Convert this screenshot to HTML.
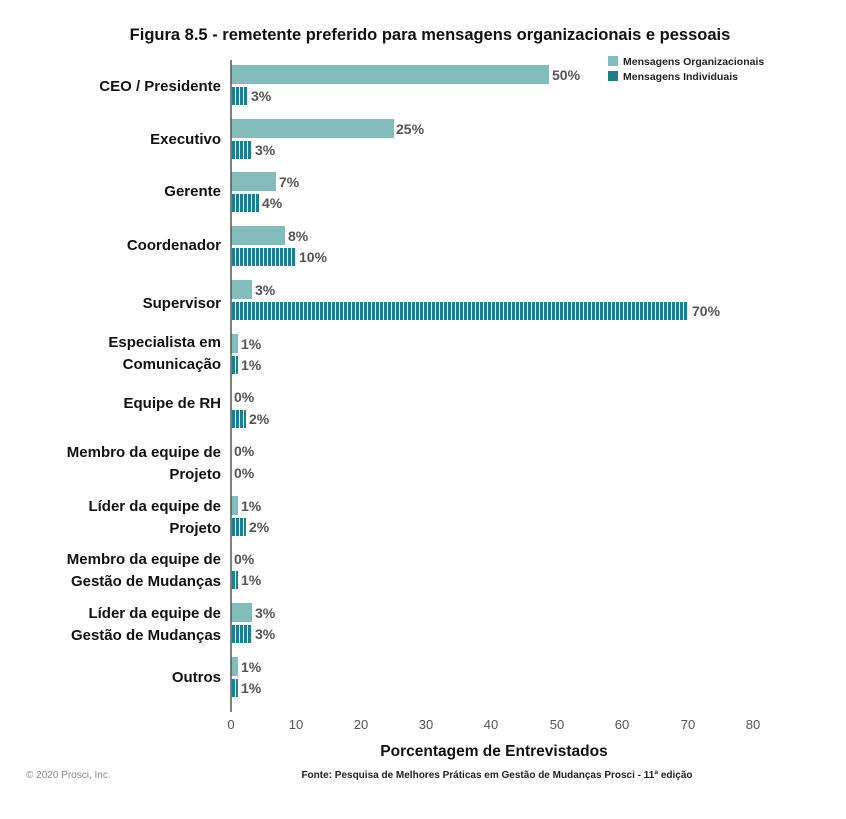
<!DOCTYPE html>
<html><head><meta charset="utf-8"><style>
body{margin:0;background:#fff}
svg{display:block;font-family:"Liberation Sans",sans-serif}
</style></head><body>
<svg width="846" height="819" viewBox="0 0 846 819" xmlns="http://www.w3.org/2000/svg">
<defs>
<pattern id="st" width="4" height="10" patternUnits="userSpaceOnUse">
<rect width="4" height="10" fill="#1e7f8a"/><rect x="3" width="1" height="10" fill="#d8ecec"/>
</pattern>
</defs>
<text x="430" y="40" text-anchor="middle" font-size="16.5" font-weight="bold" fill="#111">Figura 8.5 - remetente preferido para mensagens organizacionais e pessoais</text>
<rect x="608" y="56" width="10" height="10" fill="#84bcbc"/>
<text x="623" y="65" font-size="10.5" font-weight="bold" fill="#222">Mensagens Organizacionais</text>
<rect x="608" y="71" width="10" height="10" fill="#1e7f8a"/>
<text x="623" y="80" font-size="10.5" font-weight="bold" fill="#222">Mensagens Individuais</text>
<g font-size="15" font-weight="bold" fill="#111" text-anchor="end">
<text x="221" y="91">CEO / Presidente</text>
<text x="221" y="144">Executivo</text>
<text x="221" y="196">Gerente</text>
<text x="221" y="250">Coordenador</text>
<text x="221" y="308">Supervisor</text>
<text x="221" y="347">Especialista em</text><text x="221" y="369">Comunicação</text>
<text x="221" y="408">Equipe de RH</text>
<text x="221" y="457">Membro da equipe de</text><text x="221" y="479">Projeto</text>
<text x="221" y="511">Líder da equipe de</text><text x="221" y="533">Projeto</text>
<text x="221" y="564">Membro da equipe de</text><text x="221" y="586">Gestão de Mudanças</text>
<text x="221" y="618">Líder da equipe de</text><text x="221" y="640">Gestão de Mudanças</text>
<text x="221" y="682">Outros</text>
</g>
<g font-size="14" font-weight="bold" fill="#555">
<rect x="231" y="65" width="318" height="19" fill="#84bcbc"/><text x="552" y="80">50%</text>
<rect x="231" y="87" width="17" height="18" fill="url(#st)"/><text x="251" y="101">3%</text>
<rect x="231" y="119" width="163" height="19" fill="#84bcbc"/><text x="396" y="134">25%</text>
<rect x="231" y="141" width="21" height="18" fill="url(#st)"/><text x="255" y="155">3%</text>
<rect x="231" y="172" width="45" height="19" fill="#84bcbc"/><text x="279" y="187">7%</text>
<rect x="231" y="194" width="28" height="18" fill="url(#st)"/><text x="262" y="208">4%</text>
<rect x="231" y="226" width="54" height="19" fill="#84bcbc"/><text x="288" y="241">8%</text>
<rect x="231" y="248" width="65" height="18" fill="url(#st)"/><text x="299" y="262">10%</text>
<rect x="231" y="280" width="21" height="19" fill="#84bcbc"/><text x="255" y="295">3%</text>
<rect x="231" y="302" width="457" height="18" fill="url(#st)"/><text x="692" y="316">70%</text>
<rect x="231" y="334" width="7" height="19" fill="#84bcbc"/><text x="241" y="349">1%</text>
<rect x="231" y="356" width="7" height="18" fill="url(#st)"/><text x="241" y="370">1%</text>
<text x="234" y="402">0%</text>
<rect x="231" y="410" width="15" height="18" fill="url(#st)"/><text x="249" y="424">2%</text>
<text x="234" y="456">0%</text>
<text x="234" y="478">0%</text>
<rect x="231" y="496" width="7" height="19" fill="#84bcbc"/><text x="241" y="511">1%</text>
<rect x="231" y="518" width="15" height="18" fill="url(#st)"/><text x="249" y="532">2%</text>
<text x="234" y="564">0%</text>
<rect x="231" y="571" width="7" height="18" fill="url(#st)"/><text x="241" y="585">1%</text>
<rect x="231" y="603" width="21" height="19" fill="#84bcbc"/><text x="255" y="618">3%</text>
<rect x="231" y="625" width="21" height="18" fill="url(#st)"/><text x="255" y="639">3%</text>
<rect x="231" y="657" width="7" height="19" fill="#84bcbc"/><text x="241" y="672">1%</text>
<rect x="231" y="679" width="7" height="18" fill="url(#st)"/><text x="241" y="693">1%</text>
</g>
<line x1="231" y1="60" x2="231" y2="712" stroke="#555" stroke-width="1.5"/>
<g font-size="13" fill="#555" text-anchor="middle">
<text x="231" y="729">0</text><text x="296" y="729">10</text><text x="361" y="729">20</text><text x="426" y="729">30</text><text x="491" y="729">40</text><text x="557" y="729">50</text><text x="622" y="729">60</text><text x="688" y="729">70</text><text x="753" y="729">80</text>
</g>
<text x="494" y="756" text-anchor="middle" font-size="15.5" font-weight="bold" fill="#111">Porcentagem de Entrevistados</text>
<text x="26" y="778" font-size="10" fill="#888">© 2020 Prosci, Inc.</text>
<text x="497" y="778" text-anchor="middle" font-size="10" font-weight="bold" fill="#222">Fonte: Pesquisa de Melhores Práticas em Gestão de Mudanças Prosci - 11ª edição</text>
</svg>
</body></html>
